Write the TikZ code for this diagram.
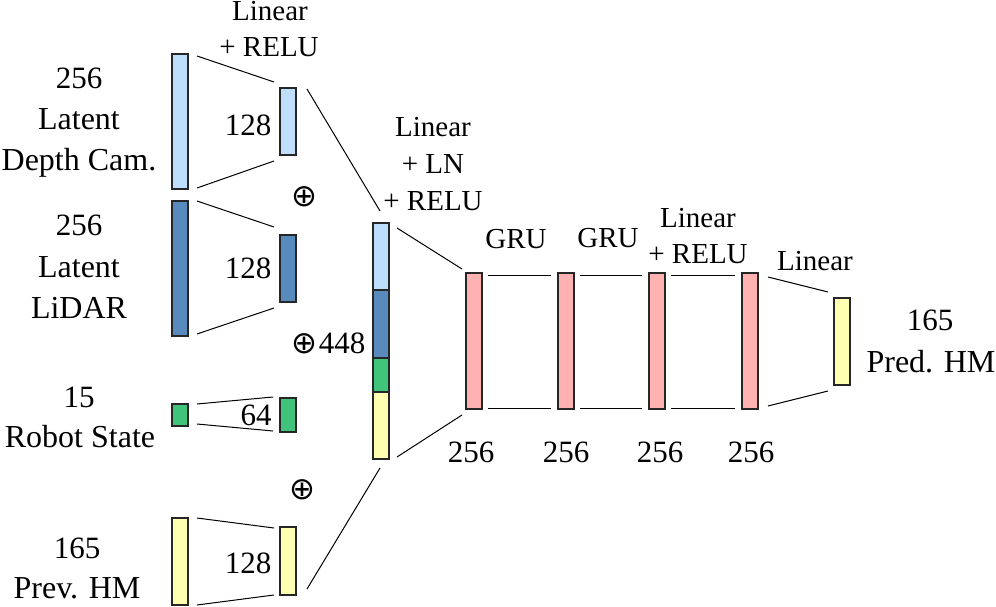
\documentclass[tikz,border=0pt]{standalone}
\usepackage{fontspec}
\setmainfont{Liberation Serif}
\newfontfamily\tms{Liberation Serif}
\newfontfamily\djv{DejaVu Sans}
\usetikzlibrary{calc}
\definecolor{lblue}{RGB}{190,222,252}
\definecolor{dblue}{RGB}{88,138,190}
\definecolor{mgreen}{RGB}{64,196,124}
\definecolor{lyellow}{RGB}{255,255,178}
\definecolor{lpink}{RGB}{255,178,178}
\begin{document}
\begin{tikzpicture}[x=1pt,y=-1pt,
  bar/.style={draw=black!85,line width=1.1pt,rectangle,inner sep=0pt,outer sep=0pt,minimum width=16pt},
  conn/.style={draw=black,line width=1pt},
  lbl/.style={anchor=base,inner sep=0pt,font=\tms\fontsize{32}{38}\selectfont},
  num/.style={anchor=base,inner sep=0pt,font=\tms\fontsize{31}{36}\selectfont},
  lay/.style={anchor=base,inner sep=0pt,font=\tms\fontsize{29}{34}\selectfont},
  opl/.style={inner sep=0pt,font=\djv\fontsize{31}{31}\selectfont}]
\useasboundingbox (0,0) rectangle (996,607);
% input bars
\node[bar,fill=lblue,minimum height=135pt] (din) at (180,121.5) {};
\node[bar,fill=lblue,minimum height=67pt] (d128) at (288,121.5) {};
\node[bar,fill=dblue,minimum height=135pt] (lin) at (180,268.5) {};
\node[bar,fill=dblue,minimum height=67pt] (l128) at (288,268.5) {};
\node[bar,fill=mgreen,minimum height=22pt] (rin) at (180,415) {};
\node[bar,fill=mgreen,minimum height=34pt] (r64) at (288,415) {};
\node[bar,fill=lyellow,minimum height=87pt] (pin) at (180,561.5) {};
\node[bar,fill=lyellow,minimum height=68pt] (p128) at (288,561) {};
% concat bar
\node[bar,fill=lblue,minimum height=67pt] (c1) at (381,256.5) {};
\node[bar,fill=dblue,minimum height=68pt] (c2) at (381,324) {};
\node[bar,fill=mgreen,minimum height=34pt] (c3) at (381,375) {};
\node[bar,fill=lyellow,minimum height=67pt] (c4) at (381,425.5) {};
% recurrent / linear bars
\node[bar,fill=lpink,minimum height=136pt] (g1) at (474,341) {};
\node[bar,fill=lpink,minimum height=136pt] (g2) at (566,341) {};
\node[bar,fill=lpink,minimum height=136pt] (g3) at (657,341) {};
\node[bar,fill=lpink,minimum height=136pt] (g4) at (750,341) {};
\node[bar,fill=lyellow,minimum height=87pt] (out) at (842,341.5) {};
% connectors
\draw[conn] ($(din.north east)+(9,2)$) -- ($(d128.north west)+(-6,-6)$);
\draw[conn] ($(din.south east)+(9,-1)$) -- ($(d128.south west)+(-6,6)$);
\draw[conn] ($(lin.north east)+(9,0)$) -- ($(l128.north west)+(-6,-8)$);
\draw[conn] ($(lin.south east)+(9,-2)$) -- ($(l128.south west)+(-6,6)$);
\draw[conn] ($(rin.north east)+(9,0)$) -- ($(r64.north west)+(-7,-1)$);
\draw[conn] ($(rin.south east)+(9,-2)$) -- ($(r64.south west)+(-7,-1)$);
\draw[conn] ($(pin.north east)+(9,0)$) -- ($(p128.north west)+(-6,1)$);
\draw[conn] ($(pin.south east)+(9,0)$) -- ($(p128.south west)+(-6,0)$);
\draw[conn] ($(d128.north east)+(11,1)$) -- ($(c1.north west)+(7,-12)$);
\draw[conn] ($(p128.south east)+(11,-6)$) -- ($(c4.south west)+(7,9)$);
\draw[conn] ($(c1.north east)+(8,5)$) -- ($(g1.north west)+(-4,-4)$);
\draw[conn] ($(c4.south east)+(8,-2)$) -- ($(g1.south west)+(-4,6)$);
\draw[conn] ($(g1.north east)+(6,2)$) -- ($(g2.north west)+(-7,2)$);
\draw[conn] ($(g1.south east)+(6,-1)$) -- ($(g2.south west)+(-7,-1)$);
\draw[conn] ($(g2.north east)+(6,2)$) -- ($(g3.north west)+(-7,2)$);
\draw[conn] ($(g2.south east)+(6,-1)$) -- ($(g3.south west)+(-7,-1)$);
\draw[conn] ($(g3.north east)+(6,2)$) -- ($(g4.north west)+(-7,2)$);
\draw[conn] ($(g3.south east)+(6,-1)$) -- ($(g4.south west)+(-7,-1)$);
\draw[conn] ($(g4.north east)+(10,4)$) -- ($(out.north west)+(-6,-6)$);
\draw[conn] ($(g4.south east)+(10,-3)$) -- ($(out.south west)+(-6,6)$);
% left labels
\node[num] (t1a) at (79,89) {256};
\node[lbl] (t1b) at (79,130) {Latent};
\node[lbl] (t1c) at (79,171) {Depth Cam.};
\node[num] (t2a) at (79,235) {256};
\node[lbl] (t2b) at (79,277) {Latent};
\node[lbl] (t2c) at (79,318) {LiDAR};
\node[num] (t3a) at (79,407) {15};
\node[lbl] (t3b) at (80,447) {Robot State};
\node[num] (t4a) at (77,558) {165};
\node[lbl] (t4b) at (77,598) {Prev. HM};
% size labels
\node[num] (n1) at (248,136) {128};
\node[num] (n2) at (248,278) {128};
\node[num] (n3) at (256,425) {64};
\node[num] (n4) at (248,573) {128};
\node[num] (n5) at (342,353) {448};
\node[opl] (o1) at (304,197) {⊕};
\node[opl] (o2) at (304,344) {⊕};
\node[opl] (o3) at (302,490) {⊕};
\node[num] (b1) at (471,462) {256};
\node[num] (b2) at (566,462) {256};
\node[num] (b3) at (660,462) {256};
\node[num] (b4) at (751,462) {256};
\node[num] (r1) at (930,330) {165};
\node[lbl] (r2) at (931,372) {Pred. HM};
% layer labels
\node[lay] (y1a) at (270,21) {Linear};
\node[lay] (y1b) at (269,57) {+ RELU};
\node[lay] (y2a) at (433,137) {Linear};
\node[lay] (y2b) at (433,173) {+ LN};
\node[lay] (y2c) at (433,210) {+ RELU};
\node[lay] (y3) at (516,248) {GRU};
\node[lay] (y4) at (608,247) {GRU};
\node[lay] (y5a) at (698,227) {Linear};
\node[lay] (y5b) at (698,263) {+ RELU};
\node[lay] (y6) at (815,270) {Linear};
\end{tikzpicture}
\end{document}
